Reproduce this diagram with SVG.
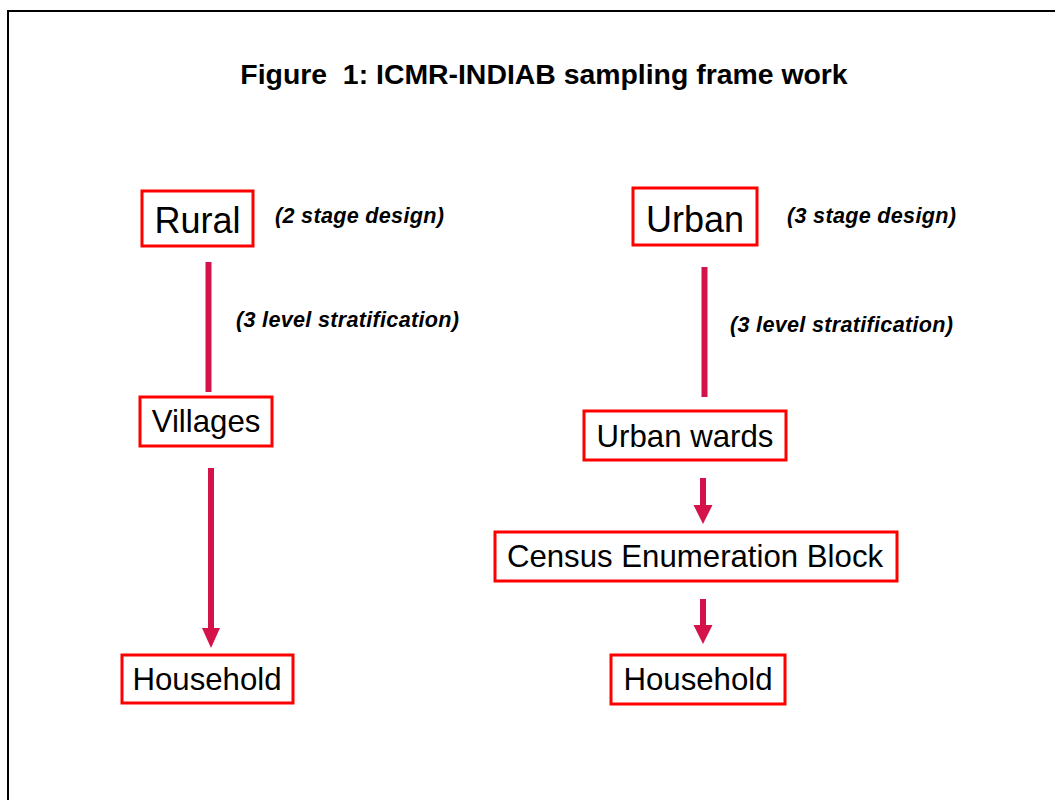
<svg xmlns="http://www.w3.org/2000/svg" width="1055" height="800" viewBox="0 0 1055 800">
  <style>
    .frame { fill: none; stroke: #000; stroke-width: 2; }
    .box { fill: #fff; stroke: #ff0000; stroke-width: 3; }
    .title { font-family: "Liberation Sans", Arial, sans-serif; font-weight: bold; font-size: 28.4px; fill: #000; }
    .big { font-family: "Liberation Sans", Arial, sans-serif; font-size: 36px; fill: #000; }
    .mid { font-family: "Liberation Sans", Arial, sans-serif; font-size: 31.2px; fill: #000; }
    .note { font-family: "Liberation Sans", Arial, sans-serif; font-weight: bold; font-style: italic; font-size: 21.6px; letter-spacing: 0.3px; fill: #000; }
    .link { stroke: #d4134a; stroke-width: 6; fill: none; }
    .head { fill: #d4134a; }
  </style>

  <rect class="frame" x="8" y="11" width="1070" height="820"/>

  <text class="title" x="544" y="84" text-anchor="middle" xml:space="preserve">Figure  1: ICMR-INDIAB sampling frame work</text>

  <!-- stage notes -->
  <text class="note" x="275" y="223">(2 stage design)</text>
  <text class="note" x="236" y="327">(3 level stratification)</text>
  <text class="note" x="787" y="223">(3 stage design)</text>
  <text class="note" x="730" y="332">(3 level stratification)</text>

  <!-- connectors -->
  <g id="connectors">
    <line class="link" x1="208.5" y1="262" x2="208.5" y2="392"/>
    <line class="link" x1="211" y1="468" x2="211" y2="630"/>
    <polygon class="head" points="202,628 220,628 211,648"/>
    <line class="link" x1="704.5" y1="267" x2="704.5" y2="397"/>
    <line class="link" x1="703" y1="478" x2="703" y2="507"/>
    <polygon class="head" points="693.5,505 712.5,505 703,524"/>
    <line class="link" x1="703" y1="599" x2="703" y2="627"/>
    <polygon class="head" points="693.5,625 712.5,625 703,644"/>
  </g>

  <g id="rural">
    <rect class="box" x="142" y="191" width="111" height="55"/>
    <text class="big" x="197.5" y="233" text-anchor="middle">Rural</text>
  </g>
  <g id="villages">
    <rect class="box" x="140" y="397" width="132" height="49"/>
    <text class="mid" x="206" y="432" text-anchor="middle">Villages</text>
  </g>
  <g id="rural-household">
    <rect class="box" x="122" y="655" width="171" height="48"/>
    <text class="mid" x="207" y="690" text-anchor="middle">Household</text>
  </g>

  <g id="urban">
    <rect class="box" x="633" y="188" width="124" height="57"/>
    <text class="big" x="695" y="232" text-anchor="middle">Urban</text>
  </g>
  <g id="urban-wards">
    <rect class="box" x="584" y="411" width="202" height="49"/>
    <text class="mid" x="685" y="447" text-anchor="middle">Urban wards</text>
  </g>
  <g id="census-block">
    <rect class="box" x="495" y="532" width="402" height="49"/>
    <text class="mid" x="695" y="567" text-anchor="middle">Census Enumeration Block</text>
  </g>
  <g id="urban-household">
    <rect class="box" x="611" y="655" width="174" height="49"/>
    <text class="mid" x="698" y="690" text-anchor="middle">Household</text>
  </g>
</svg>
